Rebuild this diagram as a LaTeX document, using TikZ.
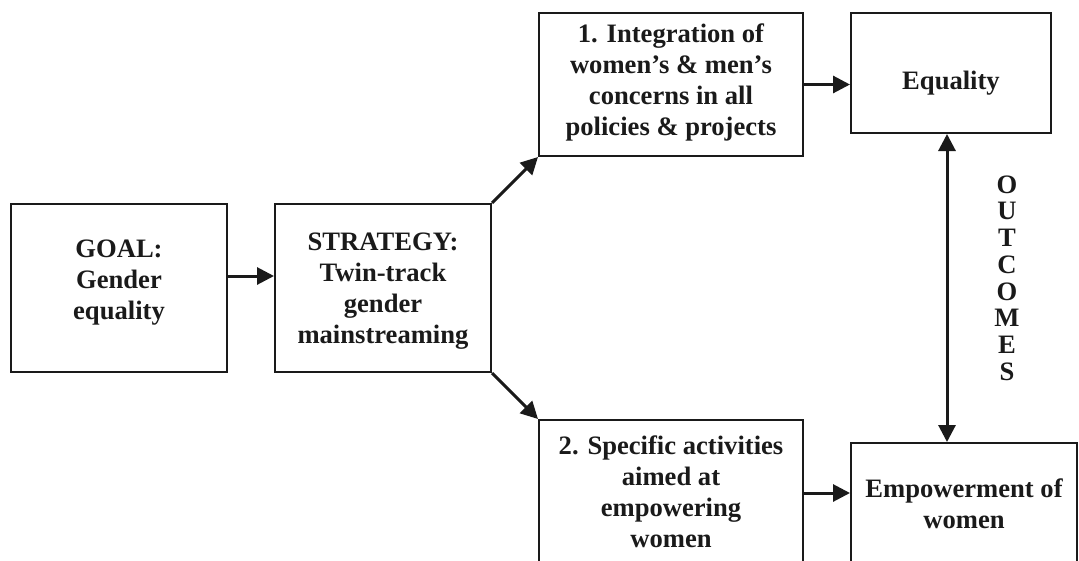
\documentclass[tikz,border=0pt]{standalone}
\usepackage{fontspec}
\setmainfont{Liberation Serif}
\usetikzlibrary{arrows.meta}
\definecolor{ink}{HTML}{1A1A1A}
\newcommand\liftby[2]{\raisebox{#1}[\height][\depth]{\begin{tabular}{@{}c@{}}#2\end{tabular}}}
\begin{document}
\begin{tikzpicture}[x=1pt,y=-1pt,
  box/.style={draw=ink, line width=2pt, inner sep=0pt, align=center, text=ink,
    font=\fontsize{26.6}{31}\selectfont\bfseries},
  arr/.style={draw=ink, line width=3pt, -{Triangle[length=17pt,width=17pt]}},
  dblarr/.style={draw=ink, line width=3pt, {Triangle[length=17pt,width=17pt]}-{Triangle[length=17pt,width=17pt]}},
  vlabel/.style={inner sep=0pt, align=center, text=ink, font=\fontsize{26.6}{26.7}\selectfont\bfseries}]
\useasboundingbox (0,0) rectangle (1079,560);
\clip (0,0) rectangle (1079,560);
\node[box, minimum width=216pt, minimum height=168pt] (goal) at (119,288)
  {\liftby{6pt}{GOAL:\\Gender\\equality}};
\node[box, minimum width=216pt, minimum height=168pt] (strat) at (383,288)
  {\liftby{-3pt}{STRATEGY:\\Twin-track\\gender\\mainstreaming}};
\node[box, minimum width=264pt, minimum height=143pt] (int) at (671,84.5)
  {\liftby{2pt}{1. Integration of\\women’s \& men’s\\concerns in all\\policies \& projects}};
\node[box, minimum width=200pt, minimum height=120pt] (eq) at (951,73)
  {\liftby{-10pt}{Equality}};
\node[box, minimum width=264pt, minimum height=146pt] (spec) at (671,493)
  {\liftby{-2pt}{2. Specific activities\\aimed at\\empowering\\women}};
\node[box, minimum width=226pt, minimum height=126pt] (emp) at (964,506)
  {\liftby{-1pt}{Empowerment of\\women}};
\node[vlabel] (outc) at (1007,278) {O\\U\\T\\C\\O\\M\\E\\S};
\draw[arr] ([yshift=12pt]goal.east) -- ([yshift=12pt]goal.east -| strat.west);
\draw[arr] (strat.north east) -- (int.south west);
\draw[arr] (strat.south east) -- (spec.north west);
\draw[arr] (int.east) -- (int.east -| eq.west);
\draw[arr] (spec.east) -- (spec.east -| emp.west);
\draw[dblarr] ([xshift=-4pt]eq.south) -- ([xshift=-4pt]eq.south |- emp.north);
\end{tikzpicture}
\end{document}
